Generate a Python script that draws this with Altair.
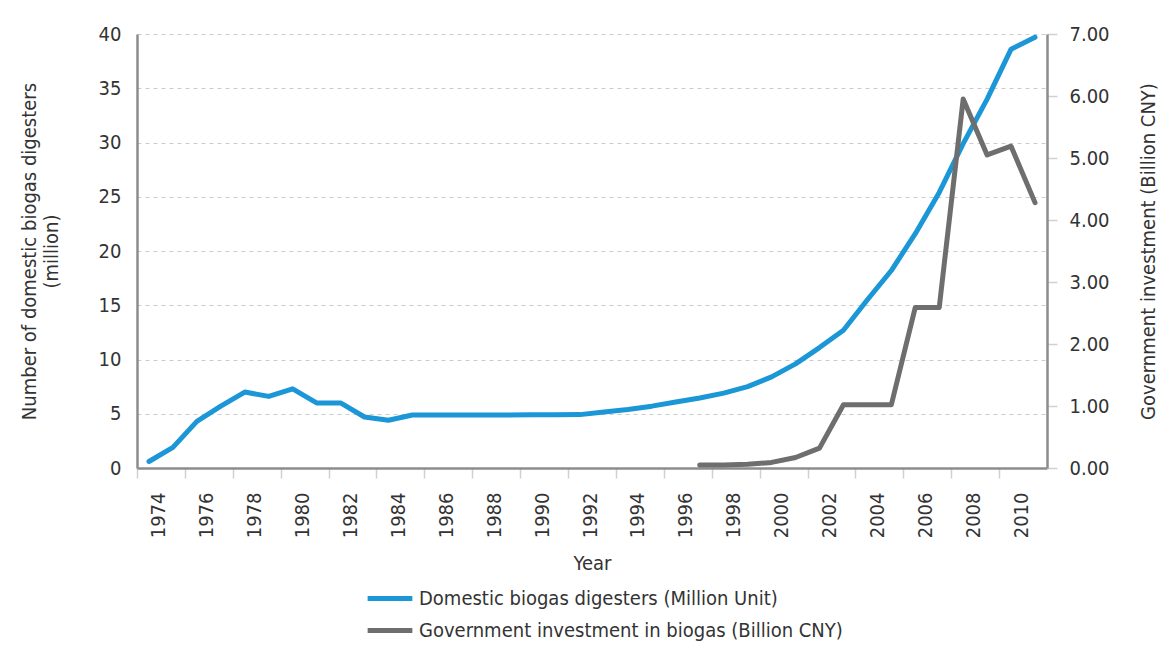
import altair as alt
import pandas as pd

years = list(range(1974, 2012))
digesters = [0.6, 1.9, 4.3, 5.7, 7.0, 6.6, 7.3, 6.0, 6.0, 4.7, 4.4, 4.88, 4.88, 4.88, 4.89, 4.89, 4.9, 4.9, 4.92,
             5.16, 5.4, 5.7, 6.08, 6.45, 6.9, 7.5, 8.4, 9.6, 11.1, 12.7, 15.5, 18.2, 21.6, 25.4, 29.9, 34.0, 38.6, 39.7]
inv_years = list(range(1997, 2012))
investment = [0.05, 0.05, 0.06, 0.09, 0.17, 0.32, 1.02, 1.02, 1.02, 2.59, 2.59, 5.95, 5.05, 5.19, 4.28]

S1 = "Domestic biogas digesters (Million Unit)"
S2 = "Government investment in biogas (Billion CNY)"
BLUE = "#1b96d6"
GRAY = "#6e6e6e"
FONT = "Liberation Sans Narrow, DejaVu Sans Condensed, Roboto"

df = pd.DataFrame(
    [{"year": y, "value": v, "series": S1} for y, v in zip(years, digesters)]
    + [{"year": y, "value": v, "series": S2} for y, v in zip(inv_years, investment)]
)

color = alt.Color(
    "series:N",
    scale=alt.Scale(domain=[S1, S2], range=[BLUE, GRAY]),
    legend=alt.Legend(
        title=None, orient="none", legendX=228, legendY=553, direction="vertical",
        symbolType="stroke", symbolStrokeWidth=5, symbolSize=2000, clipHeight=23,
        labelFontSize=20, labelFont=FONT, labelColor="#333333", rowPadding=9,
        labelLimit=0,
    ),
)

xenc = alt.X(
    "year:Q",
    scale=alt.Scale(domain=[1973.5, 2011.5], nice=False, zero=False),
    axis=alt.Axis(
        title="Year", values=list(range(1974, 2011, 2)), format="d", labelAngle=-90,
        tickOffset=-12, labelOffset=22, tickSize=10, tickColor="#d0d0d0", tickWidth=1.5,
        domainColor="#8c8c8c", domainWidth=2.5, grid=False, labelPadding=14,
        titlePadding=16,
    ),
)

blue = alt.Chart(df).transform_filter(alt.datum.series == S1).mark_line(
    strokeWidth=5, strokeCap="round", strokeJoin="round"
).encode(
    x=xenc,
    y=alt.Y(
        "value:Q",
        scale=alt.Scale(domain=[0, 40], nice=False),
        axis=alt.Axis(
            title=["Number of domestic biogas digesters", "(million)"], values=list(range(0, 41, 5)),
            grid=True, gridDash=[4, 4], gridColor="#cccccc", gridWidth=1.2,
            tickSize=0, labelPadding=16, domainColor="#8c8c8c", domainWidth=2.5,
            titlePadding=37,
        ),
    ),
    color=color,
)

gray = alt.Chart(df).transform_filter(alt.datum.series == S2).mark_line(
    strokeWidth=5, strokeCap="round", strokeJoin="round"
).encode(
    x=xenc,
    y=alt.Y(
        "value:Q",
        scale=alt.Scale(domain=[0, 7], nice=False),
        axis=alt.Axis(
            orient="right", title="Government investment (Billion CNY)", values=list(range(0, 8)),
            format=".2f", grid=False, tickSize=10, tickColor="#d0d0d0", tickWidth=1.5,
            labelPadding=12, domainColor="#8c8c8c", domainWidth=2.5, titleAngle=-90,
            titlePadding=49,
        ),
    ),
    color=color,
)

chart = alt.layer(blue, gray).resolve_scale(y="independent").properties(
    width=910, height=434,
    autosize=alt.AutoSizeParams(type="none"),
    padding={"left": 129, "top": 26, "right": 116, "bottom": 173},
).configure_view(stroke=None).configure_axis(
    labelFont=FONT, labelFontSize=20, labelColor="#333333",
    titleFont=FONT, titleFontSize=20, titleColor="#333333", titleFontWeight="normal",
)

chart.save("out.html", embed_options={"renderer": "svg", "actions": False})
